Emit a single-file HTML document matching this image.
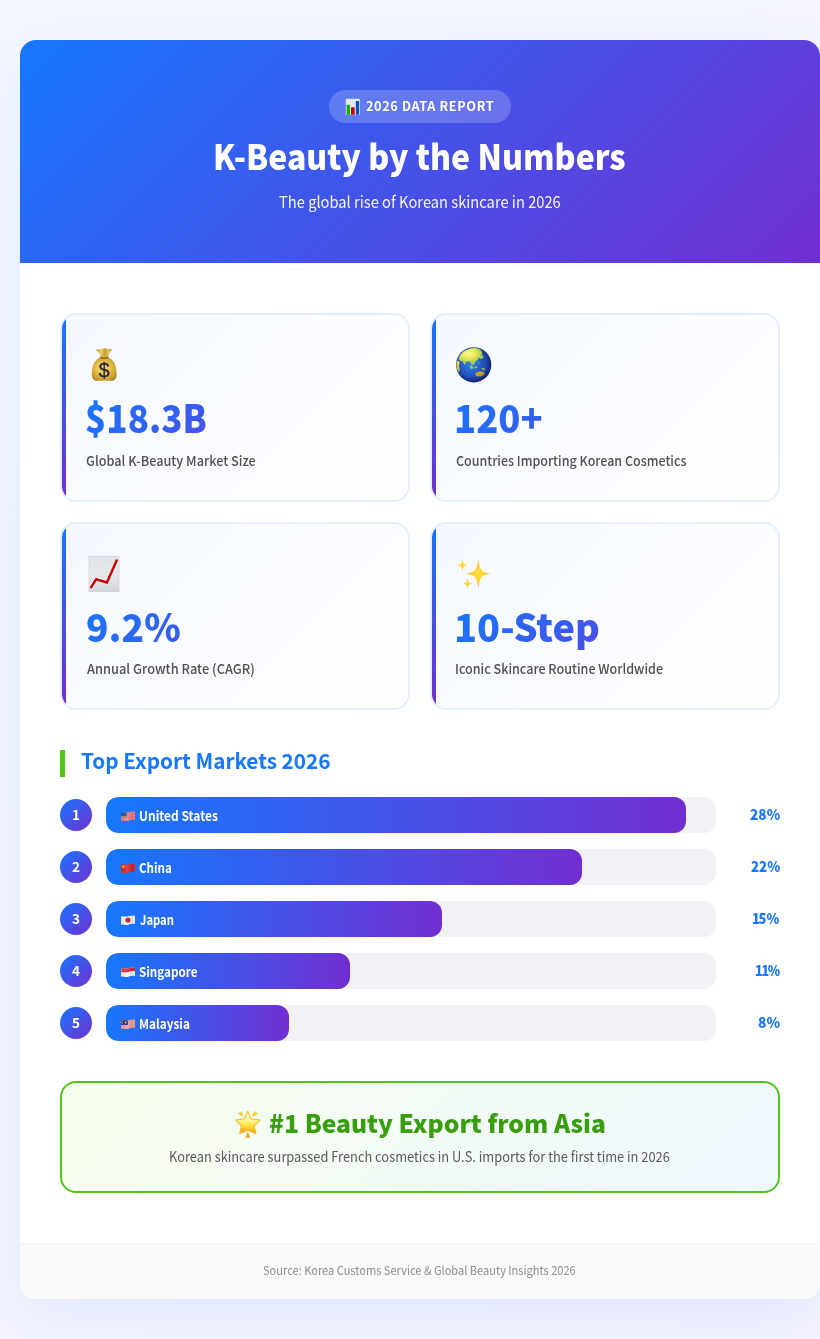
<!DOCTYPE html>
<html lang="en">
<head>
<meta charset="UTF-8">
<title>K-Beauty by the Numbers</title>
<style>
*{margin:0;padding:0;box-sizing:border-box}
html,body{width:820px;height:1339px;overflow:hidden}
body{font-family:"Noto Sans CJK KR","Noto Sans CJK SC","Noto Sans CJK JP","Noto Sans CJK TC","Liberation Sans",sans-serif;background:linear-gradient(135deg,#f4f7ff 0%,#f5f3ff 100%);position:relative;color:#262626}
.t{position:absolute;display:block;line-height:0;white-space:nowrap;transform-origin:0 100%;height:40px}
.t::before{content:"";display:inline-block;width:0;height:40px}
.n1{letter-spacing:-.1em}
.e{position:absolute;display:block;overflow:visible}
.container{position:absolute;left:20px;top:40px;width:800px;height:1259px;background:#fff;border-radius:16px;overflow:hidden;box-shadow:0 20px 60px rgba(22,119,255,0.085)}
.header{position:absolute;left:0;top:0;width:800px;height:223px;background:linear-gradient(135deg,#1677ff 0%,#722ed1 100%);color:#fff}
.badge{position:absolute;left:309px;top:50px;width:182px;height:33px;border-radius:17px;background:rgba(255,255,255,0.2)}
.card{position:absolute;width:350px;height:188.5px;border:2px solid #e3eeff;border-radius:16px;background:linear-gradient(135deg,#f4f8ff 0%,#ffffff 100%);overflow:hidden}
.card::before{content:"";position:absolute;left:0;top:0;width:4px;height:100%;background:linear-gradient(180deg,#1677ff,#722ed1)}
.num{width:298px;height:54px;background:linear-gradient(135deg,#1677ff,#722ed1);-webkit-background-clip:text;background-clip:text;color:transparent;-webkit-text-fill-color:transparent}
.h2bar{position:absolute;left:40px;top:710px;width:5px;height:27px;background:#52c41a}
.row{position:absolute;left:40px;width:720px;height:36px}
.rank{position:absolute;left:0;top:2px;width:32px;height:32px;border-radius:50%;background:linear-gradient(135deg,#1677ff,#722ed1)}
.track{position:absolute;left:46px;top:0;width:610px;height:36px;border-radius:12px;background:#f0f2f5;overflow:hidden}
.fill{position:absolute;left:0;top:0;height:36px;border-radius:12px;background:linear-gradient(90deg,#1677ff,#722ed1)}
.hl{position:absolute;left:40px;top:1041px;width:720px;height:111.7px;border:2px solid #52c41a;border-radius:16px;background:linear-gradient(135deg,#f6ffed 0%,#f0f7ff 100%)}
.footer{position:absolute;left:0;top:1203px;width:800px;height:56px;background:#fafafa;border-top:1px solid #f0f0f0}
</style>
</head>
<body>
<div class="container">
<div class="header">
<div class="badge"><svg class="e" style="left:16.20px;top:8.10px;width:15.6px;height:17.8px" viewBox="345.20 98.10 15.6 17.8" ><rect x="346.2" y="99.1" width="13.6" height="15.8" fill="#e4e9f1"/><rect x="346.2" y="99.1" width="13.6" height="15.8" fill="none" stroke="#c9d1e0" stroke-width=".5"/><rect x="346.9" y="104.9" width="3.3" height="10" rx=".5" fill="#05b30a"/><rect x="351.2" y="107.4" width="3.7" height="7.5" rx=".5" fill="#b90505"/><rect x="356.0" y="101.2" width="3.2" height="13.7" rx=".5" fill="#0553c2"/></svg><span class="t " id="badge" style="left:37.42px;top:-18.80px;font-size:12.7px;font-weight:700;transform:scaleX(1.0032);letter-spacing:.6px;">2026 DATA REPORT</span></div>
<span class="t " id="title" style="left:192.94px;top:89.50px;font-size:34.7px;font-weight:800;transform:scaleX(0.9240);">K-Beauty by the Numbers</span>
<span class="t " id="sub" style="left:258.96px;top:127.50px;font-size:15.8px;font-weight:400;transform:scaleX(0.9298);opacity:.95;">The global rise of Korean skincare in 2026</span>
</div>
<div class="card" style="left:40px;top:273px">
<svg class="e" style="left:28.00px;top:31.00px;width:28px;height:37px" viewBox="90.00 346.00 28 37" ><defs><radialGradient id="mb" cx=".5" cy=".5" r=".62" fx=".42" fy=".42"><stop offset="0" stop-color="#f9e27a"/><stop offset=".45" stop-color="#e9c44b"/><stop offset=".85" stop-color="#c39a2c"/><stop offset="1" stop-color="#9c7720"/></radialGradient><linearGradient id="mt" x1="0" x2="1"><stop offset="0" stop-color="#b88a25"/><stop offset=".3" stop-color="#ecd06a"/><stop offset=".55" stop-color="#c9a033"/><stop offset=".8" stop-color="#e6c75c"/><stop offset="1" stop-color="#a87c20"/></linearGradient></defs><path d="M100.6,357.8 C100.4,354.2 98.6,351.8 95.9,350.2 C97.6,348.7 99.6,349.6 101.2,348.7 C102.6,349.6 104.2,348.0 105.8,348.3 C107.4,349.3 109.6,348.3 112.2,349.8 C110,351.7 108.3,354.2 108.1,357.8Z" fill="url(#mt)"/><path d="M100.3,357.6 C95.8,359.3 92.4,364.0 91.9,372.2 C91.5,378.4 93.2,380.8 98.2,380.8 L110.4,380.8 C115.4,380.8 117.0,378.4 116.6,372.2 C116.1,364.0 112.7,359.3 108.2,357.6 C105.6,358.5 102.9,358.5 100.3,357.6Z" fill="url(#mb)"/><path d="M100.2,356.6 C102.9,357.7 105.6,357.7 108.3,356.6 L108.4,358.3 C105.7,359.3 102.8,359.3 100.1,358.3Z" fill="#8d6a1c"/><text x="104.2" y="376.9" text-anchor="middle" font-family="'Liberation Sans',sans-serif" font-weight="400" font-size="19.5" fill="#2a2236" stroke="#2a2236" stroke-width=".35">$</text></svg>
<span class="t num" id="c1n" style="left:23.20px;top:78.40px;font-size:38.5px;font-weight:800;transform:scaleX(0.9095);">$18.3B</span>
<span class="t " id="c1l" style="left:23.96px;top:110.50px;font-size:13.7px;font-weight:500;color:#505050;transform:scaleX(0.9277);">Global K-Beauty Market Size</span>
</div>
<div class="card" style="left:410px;top:273px">
<svg class="e" style="left:23.00px;top:31.00px;width:38px;height:38px" viewBox="455.00 346.00 38 38" ><defs><radialGradient id="gb" cx=".42" cy=".48" r=".6"><stop offset="0" stop-color="#2f86de"/><stop offset=".5" stop-color="#2458c6"/><stop offset=".85" stop-color="#1f3ea6"/><stop offset="1" stop-color="#1a2b80"/></radialGradient><radialGradient id="gl" cx=".4" cy=".35" r=".55"><stop offset="0" stop-color="#fdf78c"/><stop offset=".5" stop-color="#e9ea5c"/><stop offset="1" stop-color="#a5cf42"/></radialGradient><clipPath id="gc"><circle cx="473.7" cy="364.8" r="17.6"/></clipPath><radialGradient id="gs" cx=".45" cy=".42" r=".58"><stop offset=".7" stop-color="#0a1550" stop-opacity="0"/><stop offset="1" stop-color="#0a1550" stop-opacity=".55"/></radialGradient></defs><circle cx="473.7" cy="364.8" r="17.6" fill="url(#gb)"/><g clip-path="url(#gc)"><path d="M458.78,359.56 L460.25,355.17 L463.76,351.37 L469.32,349.03 L475.18,347.85 L480.44,349.90 L482.08,353.42 L480.44,356.05 L482.79,355.47 L483.08,357.81 L480.44,358.69 L478.69,356.93 L477.99,359.56 L476.05,360.74 L474.59,362.20 L474.00,364.54 L471.66,363.96 L470.20,361.61 L467.56,361.03 L465.81,362.20 L464.52,364.54 L463.00,361.61 L460.83,360.74Z" fill="url(#gl)" stroke="#c9de55" stroke-width=".5" stroke-linejoin="round"/><path d="M456.91,361.32 L458.78,360.74 L459.84,363.08 L458.78,365.42 L459.66,369.52 L458.78,372.44 L457.49,370.10 L456.32,365.42Z" fill="#ecd535"/><ellipse cx="480.1" cy="374.0" rx="4.7" ry="2.5" fill="#c8a428" transform="rotate(-8 480.1 374)"/><ellipse cx="471.6" cy="367.3" rx="1.3" ry="1.9" fill="#a9d23f" transform="rotate(-35 471.6 367.3)"/><ellipse cx="475.8" cy="367.4" rx="1.5" ry="1.0" fill="#a9d23f" transform="rotate(-30 475.8 367.4)"/><ellipse cx="483.3" cy="369.0" rx="1.9" ry=".9" fill="#b5c436" transform="rotate(20 483.3 369)"/><ellipse cx="478.6" cy="362.5" rx=".7" ry="1.6" fill="#7fb8d8" opacity=".6" transform="rotate(-20 478.6 362.5)"/><circle cx="473.7" cy="364.8" r="17.6" fill="url(#gs)"/></g></svg>
<span class="t num" id="c2n" style="left:22.45px;top:78.40px;font-size:38.5px;font-weight:800;transform:scaleX(0.9454);">120+</span>
<span class="t " id="c2l" style="left:23.77px;top:110.50px;font-size:13.7px;font-weight:500;color:#505050;transform:scaleX(0.9126);">Countries Importing Korean Cosmetics</span>
</div>
<div class="card" style="left:40px;top:481.5px">
<svg class="e" style="left:26.00px;top:31.50px;width:32px;height:38px" viewBox="88.00 555.00 32 38" ><defs><linearGradient id="cg" x1="0" x2="0" y1="0" y2="1"><stop offset="0" stop-color="#dfe2e7"/><stop offset=".5" stop-color="#e6e8ec"/><stop offset="1" stop-color="#d3d6dc"/></linearGradient></defs><rect x="89" y="556.3" width="30" height="35.4" fill="url(#cg)" stroke="#c6cad1" stroke-width=".6"/><polyline points="90.6,588.1 96.2,579.2 106.9,582.5 117.1,559.6" fill="none" stroke="#eefcff" stroke-width="4" stroke-linejoin="miter" opacity=".85"/><polyline points="90.6,588.1 96.2,579.2 106.9,582.5 117.1,559.6" fill="none" stroke="#c40000" stroke-width="2.5" stroke-linejoin="miter"/></svg>
<span class="t num" id="c3n" style="left:24.29px;top:78.40px;font-size:38.5px;font-weight:800;transform:scaleX(0.9625);">9.2%</span>
<span class="t " id="c3l" style="left:24.50px;top:110.50px;font-size:13.7px;font-weight:500;color:#505050;transform:scaleX(0.9376);">Annual Growth Rate (CAGR)</span>
</div>
<div class="card" style="left:410px;top:481.5px">
<svg class="e" style="left:24.00px;top:34.50px;width:36px;height:33px" viewBox="456.00 558.00 36 33" ><defs><radialGradient id="sp" cx=".5" cy=".5" r=".5"><stop offset="0" stop-color="#ffe03a"/><stop offset=".45" stop-color="#ffd230"/><stop offset="1" stop-color="#ff9420"/></radialGradient></defs><path d="M478.30,559.00 C479.02,569.36 481.90,572.91 490.30,573.80 C481.90,574.69 479.02,578.24 478.30,588.60 C477.58,578.24 474.70,574.69 466.30,573.80 C474.70,572.91 477.58,569.36 478.30,559.00 Z" fill="url(#sp)"/><path d="M462.35,558.50 C462.62,563.26 463.70,564.89 466.85,565.30 C463.70,565.71 462.62,567.34 462.35,572.10 C462.08,567.34 461.00,565.71 457.85,565.30 C461.00,564.89 462.08,563.26 462.35,558.50 Z" fill="url(#sp)"/><path d="M467.60,577.60 C467.88,581.87 468.98,583.33 472.20,583.70 C468.98,584.07 467.88,585.53 467.60,589.80 C467.32,585.53 466.22,584.07 463.00,583.70 C466.22,583.33 467.32,581.87 467.60,577.60 Z" fill="url(#sp)"/></svg>
<span class="t num" id="c4n" style="left:22.35px;top:78.40px;font-size:38.5px;font-weight:800;transform:scaleX(0.9837);">10-Step</span>
<span class="t " id="c4l" style="left:23.27px;top:110.50px;font-size:13.7px;font-weight:500;color:#505050;transform:scaleX(0.9174);">Iconic Skincare Routine Worldwide</span>
</div>
<div class="h2bar"></div>
<span class="t " id="h2" style="left:60.78px;top:689.00px;font-size:20.8px;font-weight:700;color:#1677ff;transform:scaleX(0.9966);">Top Export Markets 2026</span>
<div class="row" style="top:757px">
<div class="rank"><span class="t" id="r0k" style="left:0;width:32px;text-align:center;top:-19.40px;font-size:13.5px;font-weight:700;color:#fff">1</span></div>
<div class="track"><div class="fill" style="width:95%"><svg class="e" style="left:15.00px;top:13.90px;width:14px;height:10px" viewBox="0 -0.2 14 10"><defs><clipPath id="fcus"><path d="M0,1.25 C2.6,0.7 4.6,2.0 7.2,1.15 C9.6,0.35 11.6,-0.1 14,0.45 L14,8.75 C11.6,8.2 9.6,8.65 7.2,9.45 C4.6,10.3 2.6,9.0 0,9.55Z"/></clipPath><linearGradient id="fsus" x1="0" x2="1" y1="0" y2="0"><stop offset="0" stop-color="#000" stop-opacity=".06"/><stop offset=".45" stop-color="#fff" stop-opacity=".10"/><stop offset=".8" stop-color="#000" stop-opacity=".10"/><stop offset="1" stop-color="#000" stop-opacity=".02"/></linearGradient></defs><g clip-path="url(#fcus)"><rect x="0" y="-1" width="14" height="12" fill="#f4a3a3"/><path d="M0,1.6 C2.6,1.05 4.6,2.35 7.2,1.50 C9.6,0.70 11.6,0.25 14,0.80" stroke="#e8555f" stroke-width="0.75" fill="none"/><path d="M0,3.1 C2.6,2.55 4.6,3.85 7.2,3.00 C9.6,2.20 11.6,1.75 14,2.30" stroke="#e8555f" stroke-width="0.75" fill="none"/><path d="M0,4.6 C2.6,4.05 4.6,5.35 7.2,4.50 C9.6,3.70 11.6,3.25 14,3.80" stroke="#e8555f" stroke-width="0.75" fill="none"/><path d="M0,6.1 C2.6,5.55 4.6,6.85 7.2,6.00 C9.6,5.20 11.6,4.75 14,5.30" stroke="#e8555f" stroke-width="0.75" fill="none"/><path d="M0,7.6 C2.6,7.05 4.6,8.35 7.2,7.50 C9.6,6.70 11.6,6.25 14,6.80" stroke="#e8555f" stroke-width="0.75" fill="none"/><path d="M0,9.1 C2.6,8.55 4.6,9.85 7.2,9.00 C9.6,8.20 11.6,7.75 14,8.30" stroke="#e8555f" stroke-width="0.75" fill="none"/><path d="M0,0.5 L5.9,0.5 L5.9,5.3 C4,5.6 2,4.9 0,5.3Z" fill="#1d5fa8"/><rect x="0" y="-1" width="14" height="12" fill="url(#fsus)"/></g></svg><span class="t " id="r0n" style="left:32.84px;top:-16.50px;font-size:13.1px;font-weight:700;color:#fff;transform:scaleX(0.9149);">United States</span></div></div>
<span class="t rt" id="r0v" style="left:689.59px;top:-17.40px;font-size:14.5px;font-weight:800;color:#1677ff;transform:scaleX(0.9472);">28%</span>
</div>
<div class="row" style="top:809px">
<div class="rank"><span class="t" id="r1k" style="left:0;width:32px;text-align:center;top:-19.40px;font-size:13.5px;font-weight:700;color:#fff">2</span></div>
<div class="track"><div class="fill" style="width:78%"><svg class="e" style="left:15.00px;top:13.90px;width:14px;height:10px" viewBox="0 -0.2 14 10"><defs><clipPath id="fccn"><path d="M0,1.25 C2.6,0.7 4.6,2.0 7.2,1.15 C9.6,0.35 11.6,-0.1 14,0.45 L14,8.75 C11.6,8.2 9.6,8.65 7.2,9.45 C4.6,10.3 2.6,9.0 0,9.55Z"/></clipPath><linearGradient id="fscn" x1="0" x2="1" y1="0" y2="0"><stop offset="0" stop-color="#000" stop-opacity=".06"/><stop offset=".45" stop-color="#fff" stop-opacity=".10"/><stop offset=".8" stop-color="#000" stop-opacity=".10"/><stop offset="1" stop-color="#000" stop-opacity=".02"/></linearGradient></defs><g clip-path="url(#fccn)"><rect x="0" y="-1" width="14" height="12" fill="#d9282f"/><circle cx="2.3" cy="3.5" r="1.15" fill="#ffde17"/><circle cx="4.5" cy="1.9" r=".38" fill="#f5b91d"/><circle cx="5.4" cy="3" r=".38" fill="#f5b91d"/><circle cx="5.3" cy="4.4" r=".38" fill="#f5b91d"/><circle cx="4.4" cy="5.5" r=".42" fill="#f5b91d"/><rect x="0" y="-1" width="14" height="12" fill="url(#fscn)"/></g></svg><span class="t " id="r1n" style="left:33.12px;top:-16.50px;font-size:13.1px;font-weight:700;color:#fff;transform:scaleX(0.8870);">China</span></div></div>
<span class="t rt" id="r1v" style="left:690.60px;top:-17.40px;font-size:14.5px;font-weight:800;color:#1677ff;transform:scaleX(0.9150);">22%</span>
</div>
<div class="row" style="top:861px">
<div class="rank"><span class="t" id="r2k" style="left:0;width:32px;text-align:center;top:-19.40px;font-size:13.5px;font-weight:700;color:#fff">3</span></div>
<div class="track"><div class="fill" style="width:55%"><svg class="e" style="left:15.00px;top:13.90px;width:14px;height:10px" viewBox="0 -0.2 14 10"><defs><clipPath id="fcjp"><path d="M0,1.25 C2.6,0.7 4.6,2.0 7.2,1.15 C9.6,0.35 11.6,-0.1 14,0.45 L14,8.75 C11.6,8.2 9.6,8.65 7.2,9.45 C4.6,10.3 2.6,9.0 0,9.55Z"/></clipPath><linearGradient id="fsjp" x1="0" x2="1" y1="0" y2="0"><stop offset="0" stop-color="#000" stop-opacity=".06"/><stop offset=".45" stop-color="#fff" stop-opacity=".10"/><stop offset=".8" stop-color="#000" stop-opacity=".10"/><stop offset="1" stop-color="#000" stop-opacity=".02"/></linearGradient></defs><g clip-path="url(#fcjp)"><rect x="0" y="-1" width="14" height="12" fill="#f4f4f2"/><circle cx="6.9" cy="4.9" r="2.55" fill="#d1122f"/><rect x="0" y="-1" width="14" height="12" fill="url(#fsjp)"/></g></svg><span class="t " id="r2n" style="left:33.78px;top:-16.50px;font-size:13.1px;font-weight:700;color:#fff;transform:scaleX(0.8572);">Japan</span></div></div>
<span class="t rt" id="r2v" style="left:692.49px;top:-17.40px;font-size:14.5px;font-weight:800;color:#1677ff;transform:scaleX(0.8964);"><span class="n1">1</span>5%</span>
</div>
<div class="row" style="top:913px">
<div class="rank"><span class="t" id="r3k" style="left:0;width:32px;text-align:center;top:-19.40px;font-size:13.5px;font-weight:700;color:#fff">4</span></div>
<div class="track"><div class="fill" style="width:40%"><svg class="e" style="left:15.00px;top:13.90px;width:14px;height:10px" viewBox="0 -0.2 14 10"><defs><clipPath id="fcsg"><path d="M0,1.25 C2.6,0.7 4.6,2.0 7.2,1.15 C9.6,0.35 11.6,-0.1 14,0.45 L14,8.75 C11.6,8.2 9.6,8.65 7.2,9.45 C4.6,10.3 2.6,9.0 0,9.55Z"/></clipPath><linearGradient id="fssg" x1="0" x2="1" y1="0" y2="0"><stop offset="0" stop-color="#000" stop-opacity=".06"/><stop offset=".45" stop-color="#fff" stop-opacity=".10"/><stop offset=".8" stop-color="#000" stop-opacity=".10"/><stop offset="1" stop-color="#000" stop-opacity=".02"/></linearGradient></defs><g clip-path="url(#fcsg)"><rect x="0" y="-1" width="14" height="12" fill="#f6f7f5"/><path d="M0,-1 L14,-1 L14,4.0 C11.6,3.5 9.6,3.9 7.2,4.7 C4.6,5.5 2.6,4.6 0,5.1Z" fill="#e3262f"/><path d="M1.9,1.9 A1.5,1.5 0 1 0 1.9,4.3 A1.25,1.25 0 1 1 1.9,1.9Z" fill="#fff"/><circle cx="3.3" cy="2.5" r=".3" fill="#fff"/><circle cx="4.2" cy="3.2" r=".3" fill="#fff"/><circle cx="3.0" cy="3.6" r=".3" fill="#fff"/><rect x="0" y="-1" width="14" height="12" fill="url(#fssg)"/></g></svg><span class="t " id="r3n" style="left:33.23px;top:-16.50px;font-size:13.1px;font-weight:700;color:#fff;transform:scaleX(0.8934);">Singapore</span></div></div>
<span class="t rt" id="r3v" style="left:694.62px;top:-17.40px;font-size:14.5px;font-weight:800;color:#1677ff;transform:scaleX(0.8675);"><span class="n1">1</span><span class="n1">1</span>%</span>
</div>
<div class="row" style="top:965px">
<div class="rank"><span class="t" id="r4k" style="left:0;width:32px;text-align:center;top:-19.40px;font-size:13.5px;font-weight:700;color:#fff">5</span></div>
<div class="track"><div class="fill" style="width:30%"><svg class="e" style="left:15.00px;top:13.90px;width:14px;height:10px" viewBox="0 -0.2 14 10"><defs><clipPath id="fcmy"><path d="M0,1.25 C2.6,0.7 4.6,2.0 7.2,1.15 C9.6,0.35 11.6,-0.1 14,0.45 L14,8.75 C11.6,8.2 9.6,8.65 7.2,9.45 C4.6,10.3 2.6,9.0 0,9.55Z"/></clipPath><linearGradient id="fsmy" x1="0" x2="1" y1="0" y2="0"><stop offset="0" stop-color="#000" stop-opacity=".06"/><stop offset=".45" stop-color="#fff" stop-opacity=".10"/><stop offset=".8" stop-color="#000" stop-opacity=".10"/><stop offset="1" stop-color="#000" stop-opacity=".02"/></linearGradient></defs><g clip-path="url(#fcmy)"><rect x="0" y="-1" width="14" height="12" fill="#f5b0a4"/><path d="M0,1.9 C2.6,1.35 4.6,2.65 7.2,1.80 C9.6,1.00 11.6,0.55 14,1.10" stroke="#ee8f86" stroke-width="0.6" fill="none"/><path d="M0,3.3 C2.6,2.75 4.6,4.05 7.2,3.20 C9.6,2.40 11.6,1.95 14,2.50" stroke="#ee8f86" stroke-width="0.6" fill="none"/><path d="M0,4.7 C2.6,4.15 4.6,5.45 7.2,4.60 C9.6,3.80 11.6,3.35 14,3.90" stroke="#ee8f86" stroke-width="0.6" fill="none"/><path d="M0,6.1 C2.6,5.55 4.6,6.85 7.2,6.00 C9.6,5.20 11.6,4.75 14,5.30" stroke="#ee8f86" stroke-width="0.6" fill="none"/><path d="M0,7.5 C2.6,6.95 4.6,8.25 7.2,7.40 C9.6,6.60 11.6,6.15 14,6.70" stroke="#ee8f86" stroke-width="0.6" fill="none"/><path d="M0,8.9 C2.6,8.35 4.6,9.65 7.2,8.80 C9.6,8.00 11.6,7.55 14,8.10" stroke="#ee8f86" stroke-width="0.6" fill="none"/><path d="M0,0.5 L6.9,0.5 L6.9,5.6 C4.6,5.9 2.3,5.2 0,5.6Z" fill="#161a78"/><path d="M2.7,1.6 A1.75,1.75 0 1 0 2.7,4.7 A1.45,1.45 0 1 1 2.7,1.6Z" fill="#f2c41b"/><circle cx="4.5" cy="3.2" r="1.0" fill="#ffd91a"/><rect x="0" y="-1" width="14" height="12" fill="url(#fsmy)"/></g></svg><span class="t " id="r4n" style="left:32.94px;top:-16.50px;font-size:13.1px;font-weight:700;color:#fff;transform:scaleX(0.9007);">Malaysia</span></div></div>
<span class="t rt" id="r4v" style="left:697.85px;top:-17.40px;font-size:14.5px;font-weight:800;color:#1677ff;transform:scaleX(0.9517);">8%</span>
</div>
<div class="hl">
<svg class="e" style="left:171.00px;top:25.00px;width:30px;height:32px" viewBox="233.00 1108.00 30 32" ><defs><linearGradient id="sg1" x1="0" x2="0" y1="0" y2="1"><stop offset="0" stop-color="#fffce0"/><stop offset=".4" stop-color="#fff59a"/><stop offset=".62" stop-color="#ffe23c"/><stop offset="1" stop-color="#f19a1a"/></linearGradient><linearGradient id="sg2" x1="0" x2="0" y1="0" y2="1"><stop offset="0" stop-color="#ffd638"/><stop offset="1" stop-color="#f6b62a"/></linearGradient></defs><path d="M247.78,1111.18 L250.98,1118.82 L260.20,1119.96 L254.23,1125.84 L255.99,1133.74 L247.78,1130.23 L239.75,1133.74 L241.33,1125.84 L235.62,1119.96 L244.57,1118.82Z" fill="url(#sg1)" stroke="#f6b92e" stroke-width="1.1" stroke-linejoin="round"/><path d="M238.25,1113.55 L241.50,1111.62 L242.99,1116.62Z" fill="url(#sg2)" stroke="#f8c430" stroke-width=".5" stroke-linejoin="round"/><path d="M253.97,1111.62 L257.66,1113.64 L252.83,1116.80Z" fill="url(#sg2)" stroke="#f8c430" stroke-width=".5" stroke-linejoin="round"/><path d="M247.78,1132.16 L245.72,1137.43 L250.02,1137.43Z" fill="#f3a520" stroke="#f3a520" stroke-width=".5" stroke-linejoin="round"/></svg>
<span class="t " id="hlt" style="left:207.26px;top:10.00px;font-size:24.7px;font-weight:800;color:#389e0d;transform:scaleX(0.9974);">#1 Beauty Export from Asia</span>
<span class="t " id="hld" style="left:107.22px;top:39.00px;font-size:13.8px;font-weight:400;color:#595959;transform:scaleX(0.9306);">Korean skincare surpassed French cosmetics in U.S. imports for the first time in 2026</span>
</div>
<div class="footer"><span class="t " id="foot" style="left:243.26px;top:-9.20px;font-size:11.9px;font-weight:400;color:#8c8c8c;transform:scaleX(0.9291);">Source: Korea Customs Service &amp; Global Beauty Insights 2026</span></div>
</div>
</body>
</html>
